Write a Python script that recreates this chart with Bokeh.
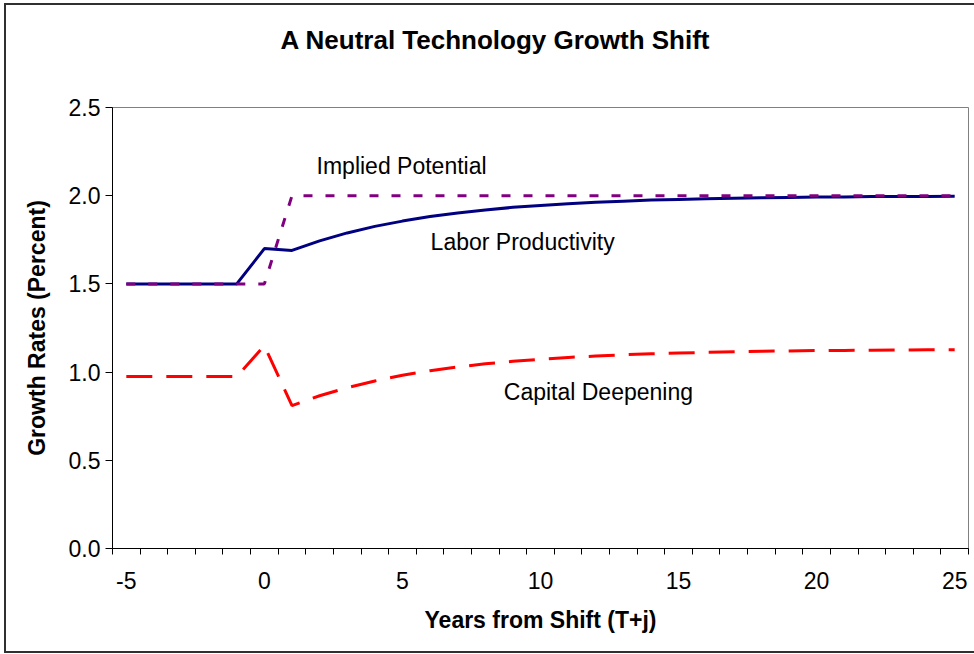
from bokeh.plotting import figure
from bokeh.models import FixedTicker, Range1d, Label, NumeralTickFormatter
from bokeh.embed import file_html
from bokeh.resources import INLINE

years = list(range(-5, 26))
labor_productivity = [1.5, 1.5, 1.5, 1.5, 1.5, 1.70, 1.69, 1.744, 1.789, 1.826, 1.856,
                      1.882, 1.902, 1.919, 1.934, 1.945, 1.955, 1.963, 1.969, 1.975,
                      1.979, 1.983, 1.986, 1.988, 1.990, 1.992, 1.993, 1.995, 1.996,
                      1.996, 1.997]
implied_potential = [1.5, 1.5, 1.5, 1.5, 1.5, 1.5] + [2.0] * 25
capital_deepening = [0.975, 0.975, 0.975, 0.975, 0.975, 1.15, 0.81, 0.866, 0.912, 0.950,
                     0.982, 1.008, 1.029, 1.047, 1.061, 1.073, 1.083, 1.091, 1.098,
                     1.104, 1.108, 1.112, 1.115, 1.118, 1.120, 1.122, 1.123, 1.124,
                     1.125, 1.126, 1.127]
x_tick_labels = [-5, 0, 5, 10, 15, 20, 25]
y_ticks = [0.0, 0.5, 1.0, 1.5, 2.0, 2.5]

FONT = "Liberation Sans"

p = figure(width=974, height=654, output_backend="svg", toolbar_location=None,
           x_range=Range1d(-5.5, 25.5), y_range=Range1d(0, 2.5),
           min_border_left=112, min_border_right=6, min_border_top=107,
           min_border_bottom=106)
p.background_fill_color = "white"
p.border_fill_color = None
p.outline_line_color = "#808080"
p.outline_line_width = 1
p.xgrid.visible = False
p.ygrid.visible = False
bc = "linear-gradient(#303030, #303030)"
p.styles = {
    "background-color": "white",
    "background-image": f"{bc}, {bc}, {bc}",
    "background-size": "2px 650px, 980px 2px, 980px 2px",
    "background-position": "4px 3px, 4px 3px, 4px 651px",
    "background-repeat": "no-repeat",
}

p.title.text = "A Neutral Technology Growth Shift\n "
p.title.text_font = FONT
p.title.text_font_size = "26px"
p.title.text_font_style = "bold"
p.title.text_color = "black"
p.title.align = "left"
p.title.offset = 168
p.title.vertical_align = "top"
p.title.standoff = 42

# x axis: category-style ticks at boundaries, labels at centers
p.xaxis.ticker = FixedTicker(ticks=x_tick_labels,
                             minor_ticks=[y + 0.5 for y in range(-6, 26)])
p.xaxis.major_label_overrides = {-5: "-5"}
p.xaxis.major_tick_out = 0
p.xaxis.major_tick_in = 0
p.xaxis.minor_tick_out = 6
p.xaxis.minor_tick_in = 0
p.xaxis.minor_tick_line_color = "black"
p.xaxis.major_label_standoff = 17
p.xaxis.axis_label = "Years from Shift (T+j)"
p.xaxis.axis_label_standoff = 15

p.yaxis.ticker = FixedTicker(ticks=y_ticks, minor_ticks=[])
p.yaxis.formatter = NumeralTickFormatter(format="0.0")
p.yaxis.major_tick_out = 7
p.yaxis.major_tick_in = 0
p.yaxis.major_label_standoff = 5
p.yaxis.axis_label = "Growth Rates (Percent)"
p.yaxis.axis_label_standoff = 16

for ax in (p.xaxis, p.yaxis):
    ax.major_label_text_font = FONT
    ax.major_label_text_font_size = "23px"
    ax.major_label_text_color = "black"
    ax.axis_label_text_font = FONT
    ax.axis_label_text_font_size = "23px"
    ax.axis_label_text_font_style = "bold"
    ax.axis_label_text_color = "black"
    ax.axis_line_color = "black"
    ax.major_tick_line_color = "black"

p.line(years, capital_deepening, line_color="#FF0000", line_width=3, line_dash="26 14")
p.line(years, labor_productivity, line_color="#000080", line_width=3)
p.line(years, implied_potential, line_color="#800080", line_width=3, line_dash="9 13")

def add_text(x, y, text):
    p.add_layout(Label(x=x, y=y, text=text, text_font=FONT, text_font_size="23px",
                       text_align="left", text_baseline="middle", text_color="black"))

add_text(1.89, 2.166, "Implied Potential")
add_text(6.02, 1.735, "Labor Productivity")
add_text(8.67, 0.89, "Capital Deepening")

open("out.html", "w").write(file_html(p, INLINE))
